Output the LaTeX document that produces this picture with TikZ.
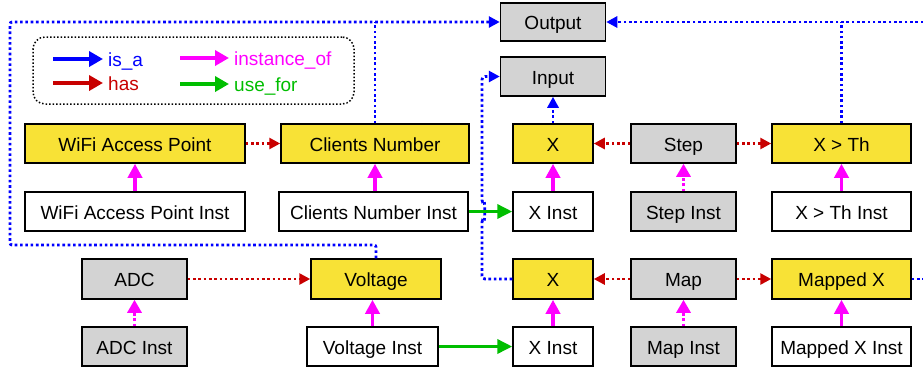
\documentclass[tikz,border=0pt]{standalone}
\usepackage{fontspec}
\setmainfont{Liberation Sans}
\usetikzlibrary{arrows.meta}
\definecolor{cyel}{RGB}{248,226,54}
\definecolor{cgray}{RGB}{211,211,211}
\definecolor{cblue}{RGB}{0,0,255}
\definecolor{cred}{RGB}{200,0,0}
\definecolor{cmag}{RGB}{255,0,255}
\definecolor{cgreen}{RGB}{0,190,0}
\tikzset{
  box/.style={draw=black,line width=1.5pt,minimum height=39pt,inner sep=0pt,text height=15pt,text depth=0pt,font=\fontsize{19}{20}\selectfont},
  ybox/.style={box,fill=cyel},
  gbox/.style={box,fill=cgray},
  wbox/.style={box,fill=white},
  dotpat/.style={dash pattern=on 2.6pt off 2.7pt},
  isa/.style={draw=cblue,line width=2.8pt,dotpat,-{Triangle[length=11pt,width=11pt]}},
  isaline/.style={draw=cblue,line width=2.8pt,dotpat},
  has/.style={draw=cred,line width=2.6pt,dotpat,-{Triangle[length=11pt,width=11pt]}},
  inst/.style={draw=cmag,line width=3.5pt,-{Triangle[length=14pt,width=14pt]}},
  instd/.style={draw=cmag,line width=3pt,dotpat,-{Triangle[length=13pt,width=14pt]}},
  usefor/.style={draw=cgreen,line width=3.5pt,-{Triangle[length=15pt,width=14pt]}},
  legarrow/.style={line width=4pt,-{Triangle[length=14pt,width=15pt]}},
  legtext/.style={anchor=west,inner sep=0pt,text height=15pt,text depth=0pt,font=\fontsize{19}{20}\selectfont},
}
\begin{document}
\begin{tikzpicture}[x=1pt,y=-1pt]
\useasboundingbox (0,0) rectangle (923,368);
\clip (0,0) rectangle (923,368);
\fill[white] (0,0) rectangle (923,368);

% legend
\node[draw=black,line width=1.5pt,dash pattern=on 1.5pt off 2pt,rounded corners=12pt,minimum width=321pt,minimum height=67pt] (legend) at (193.5,70.5) {};
\coordinate (la1) at (53,59);
\coordinate (la2) at (53,83);
\coordinate (la3) at (180,58);
\coordinate (la4) at (180,84);
\node[legtext,text=cblue] (t1) at (108,59) {is\_a};
\node[legtext,text=cred] (t2) at (108,83) {has};
\node[legtext,text=cmag] (t3) at (234,58) {instance\_of};
\node[legtext,text=cgreen] (t4) at (234,84) {use\_for};
\draw[legarrow,draw=cblue,fill=cblue] (la1) -- ([xshift=-5pt]t1.west);
\draw[legarrow,draw=cred,fill=cred] (la2) -- ([xshift=-5pt]t2.west);
\draw[legarrow,draw=cmag,fill=cmag] (la3) -- ([xshift=-5pt]t3.west);
\draw[legarrow,draw=cgreen,fill=cgreen] (la4) -- ([xshift=-5pt]t4.west);

% nodes
\node[gbox,minimum width=105pt,minimum height=38pt] (out) at (553,22) {Output};
\node[gbox,minimum width=105pt] (inp) at (553,76.5) {Input};
\node[ybox,minimum width=80pt] (xa) at (553,143.5) {X};
\node[gbox,minimum width=105pt] (step) at (683.5,143.5) {Step};
\node[ybox,minimum width=139pt] (xth) at (841.5,143.5) {X > Th};
\node[wbox,minimum width=80pt] (xai) at (553,211.5) {X Inst};
\node[gbox,minimum width=105pt] (stepi) at (683.5,211.5) {Step Inst};
\node[wbox,minimum width=139pt] (xthi) at (841.5,211.5) {X > Th Inst};
\node[ybox,minimum width=220pt] (wifi) at (135,143.5) {WiFi Access Point};
\node[ybox,minimum width=188pt] (cn) at (375,143.5) {Clients Number};
\node[wbox,minimum width=220pt] (wifii) at (135,211.5) {WiFi Access Point Inst};
\node[wbox,minimum width=189pt] (cni) at (373.5,211.5) {Clients Number Inst};
\node[gbox,minimum width=105pt,minimum height=40pt] (adc) at (134.5,279) {ADC};
\node[ybox,minimum width=130pt,minimum height=40pt] (volt) at (376,279) {Voltage};
\node[gbox,minimum width=105pt] (adci) at (134.5,346.5) {ADC Inst};
\node[wbox,minimum width=131pt] (volti) at (372.5,346.5) {Voltage Inst};
\node[ybox,minimum width=80pt,minimum height=40pt] (xb) at (553,279) {X};
\node[gbox,minimum width=105pt,minimum height=40pt] (map) at (683.5,279) {Map};
\node[ybox,minimum width=139pt,minimum height=40pt] (mx) at (841.5,279) {Mapped X};
\node[wbox,minimum width=80pt] (xbi) at (553,346.5) {X Inst};
\node[gbox,minimum width=105pt] (mapi) at (683.5,346.5) {Map Inst};
\node[wbox,minimum width=139pt] (mxi) at (841.5,346.5) {Mapped X Inst};

% is_a connectors
\coordinate (lb) at (10,245);
\coordinate (lt) at (10,22);
\coordinate (rb) at (940,279);
\coordinate (rt) at (920,22);
\coordinate (hopb) at (482,219);
\coordinate (hopt) at (482,203);
\draw[isa,rounded corners=2pt] (volt.north) |- (lb) -- (lt) -- (out.west);
\draw[isaline] (cn.north) -- (cn.north |- lt);
\draw[isa] (mx.east) -- (rb) -- (rb |- rt) -- (out.east);
\draw[isaline] (xth.north) -- (xth.north |- rt);
\draw[isa] (xa.north) -- (inp.south);
\draw[isa,rounded corners=3pt] (xb.west) -| (hopb) to[out=-60,in=60] (hopt) |- (inp.west);

% has connectors
\draw[has] (wifi.east) -- (cn.west);
\draw[has] (step.west) -- (xa.east);
\draw[has] (step.east) -- (xth.west);
\draw[has] (adc.east) -- (volt.west);
\draw[has] (map.west) -- (xb.east);
\draw[has] (map.east) -- (mx.west);

% instance_of
\draw[inst] (wifii.north) -- (wifi.south);
\draw[inst] (cni.north -| cn.south) -- (cn.south);
\draw[inst] (xai.north) -- (xa.south);
\draw[inst] (xthi.north) -- (xth.south);
\draw[inst] (volti.north) -- (volti.north |- volt.south);
\draw[inst] (xbi.north) -- (xb.south);
\draw[inst] (mxi.north) -- (mx.south);
\draw[instd] (stepi.north) -- (step.south);
\draw[instd] (adci.north) -- (adc.south);
\draw[instd] (mapi.north) -- (map.south);

% use_for
\draw[usefor] (cni.east) -- (xai.west);
\draw[usefor] (volti.east) -- (xbi.west);
\end{tikzpicture}
\end{document}
